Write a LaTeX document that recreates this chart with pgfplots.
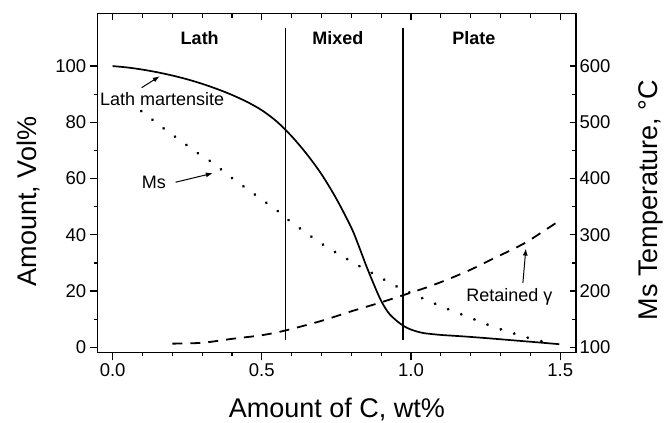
\documentclass[border=0pt]{standalone}
\usepackage{fontspec}
\setmainfont{Liberation Sans}
\usepackage{pgfplots}
\pgfplotsset{compat=1.18}
\usetikzlibrary{arrows.meta}
\begin{document}
\begin{tikzpicture}
\useasboundingbox (-97.7pt,-70.7pt) rectangle (566.3pt,352.3pt);
\pgfplotsset{
 common/.style={
  scale only axis, width=478.3pt, height=338.8pt,
  at={(0pt,0pt)}, anchor=south west,
  xmin=-0.05, xmax=1.553,
  xtick={0,0.5,1,1.5}, minor x tick num=4,
  axis line style={line width=1.4pt},
  every tick/.style={black, line width=1.2pt},
  tick label style={font=\fontsize{18.5}{18.5}\selectfont},
  /pgf/number format/assume math mode=true,
 }
}
\begin{axis}[common,
  ymin=-1.78, ymax=118.7,
  ytick={0,20,...,100}, minor y tick num=1,
  xtick pos=left, ytick pos=left, tick align=outside,
  major tick length=8pt, minor tick length=4pt,
  xticklabel style={/pgf/number format/.cd, fixed, fixed zerofill, precision=1},
  xlabel={Amount of C, wt\%},
  xlabel style={font=\fontsize{27}{27}\selectfont, at={(axis description cs:0.5,0)}, anchor=base, yshift=-65.5pt},
  ylabel={Amount, Vol\%},
  ylabel style={font=\fontsize{27}{27}\selectfont, at={(axis description cs:-0.1269,0.4451)}, anchor=base, rotate=0},
]
% lath martensite
\addplot[line width=1.7pt, smooth, tension=0.5] coordinates {
 (0,100) (0.05,99.5) (0.1,98.75) (0.15,97.8) (0.2,96.65) (0.25,95.3) (0.3,93.7) (0.35,91.85)
 (0.4,89.75) (0.45,87.3) (0.5,84.3) (0.55,80.3) (0.6,75.05) (0.65,68.8) (0.7,61.55) (0.75,52.8)
 (0.8,42.55) (0.825,36) (0.85,29) (0.875,22.5) (0.9,16.5) (0.925,12.2) (0.95,9.6) (0.975,7.6)
 (1.0,6.3) (1.04,5.1) (1.1,4.4) (1.172,3.9) (1.26,3.2) (1.34,2.5) (1.42,1.8) (1.497,1.1)
};
% retained austenite
\addplot[line width=1.8pt, dash pattern=on 10pt off 8pt, smooth] coordinates {
 (0.2,1.3) (0.3,1.6) (0.4,3) (0.5,4.3) (0.58,6) (0.7,9.4) (0.8,12.8) (0.894,15.8) (0.973,18.5)
 (1.05,21.2) (1.12,24) (1.2,27.6) (1.265,31) (1.33,34.3) (1.39,37.6) (1.49,44.5)
};
% region boundaries
\addplot[line width=1.2pt] coordinates {(0.58,2.5) (0.58,113.5)};
\addplot[line width=1.2pt] coordinates {(0.973,2.5) (0.973,113.5)};
% region labels
\node[font=\fontsize{18}{18}\selectfont\bfseries] at (axis cs:0.292,110) {Lath};
\node[font=\fontsize{18}{18}\selectfont\bfseries] at (axis cs:0.755,110) {Mixed};
\node[font=\fontsize{18}{18}\selectfont\bfseries] at (axis cs:1.211,110) {Plate};
% annotations
\node[font=\fontsize{18}{18}\selectfont] at (axis cs:0.166,88.3) {Lath martensite};
\draw[-{Latex[length=7pt,width=5pt]}, line width=1pt] (axis cs:0.097,92.3) -- (axis cs:0.158,96.4);
\node[font=\fontsize{18}{18}\selectfont] at (axis cs:0.138,58.5) {Ms};
\draw[-{Latex[length=7pt,width=5pt]}, line width=1pt] (axis cs:0.211,58.7) -- (axis cs:0.336,61.9);
\node[font=\fontsize{18}{18}\selectfont] at (axis cs:1.330,18.1) {Retained γ};
\draw[-{Latex[length=7pt,width=5pt]}, line width=1pt] (axis cs:1.375,22.9) -- (axis cs:1.385,35.1);
\end{axis}
\begin{axis}[common,
  ymin=91.1, ymax=693.5,
  ytick={100,200,...,600}, minor y tick num=1,
  xtick pos=right, ytick pos=right, yticklabel pos=right, tick align=inside,
  major tick length=6pt, minor tick length=4pt,
  xticklabels={},
  ylabel={Ms Temperature, °C},
  ylabel style={font=\fontsize{27}{27}\selectfont, at={(axis description cs:1.1700,0.4495)}, anchor=base, rotate=0},
]
% Ms temperature
\addplot[line width=3pt, line cap=round, dash pattern=on 0.1pt off 14pt, smooth] coordinates {
 (0.096,520) (0.135,504) (0.174,488) (0.213,473) (0.252,458) (0.291,443) (0.33,430) (0.4,401)
 (0.481,370) (0.559,340) (0.59,326) (0.704,283) (0.818,247) (0.894,225) (0.96,206) (1.039,187)
 (1.1,173) (1.162,160) (1.22,148) (1.273,137) (1.33,127) (1.385,118) (1.423,112.5) (1.47,107)
};
\end{axis}
\end{tikzpicture}
\end{document}
